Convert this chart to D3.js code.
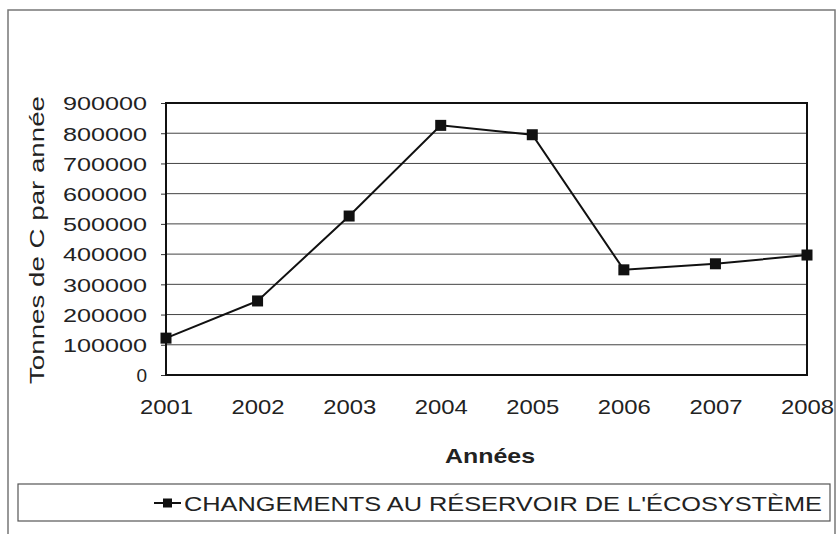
<!DOCTYPE html>
<html>
<head>
<meta charset="utf-8">
<script src="https://cdn.jsdelivr.net/npm/d3@7"></script>
<style>
  body { margin: 0; background: #fff; }
  text { font-family: "Liberation Sans", Arial, sans-serif; fill: #222; }
</style>
</head>
<body>
<div id="chart"></div>
<script>
// data
const years = ["2001", "2002", "2003", "2004", "2005", "2006", "2007", "2008"];
const values = [122000, 245000, 526000, 826000, 795000, 348000, 368000, 397000];
const yTicks = [0, 100000, 200000, 300000, 400000, 500000, 600000, 700000, 800000, 900000];
const seriesName = "CHANGEMENTS AU RÉSERVOIR DE L'ÉCOSYSTÈME";

const width = 837, height = 534;
const plot = {left: 166, right: 807, top: 103, bottom: 375};

const svg = d3.select("#chart")
    .append("svg")
    .attr("width", width)
    .attr("height", height);

// outer chart frame
svg.append("rect")
    .attr("x", 8).attr("y", 10)
    .attr("width", 827).attr("height", 540)
    .attr("fill", "none")
    .attr("stroke", "#777")
    .attr("stroke-width", 1.5);

// scales
const x = d3.scalePoint().domain(years).range([plot.left, plot.right]).padding(0);
const y = d3.scaleLinear().domain([0, 900000]).range([plot.bottom, plot.top]);

// gridlines
svg.append("g")
    .selectAll("line")
    .data(yTicks.filter(d => d > 0 && d < 900000))
    .join("line")
    .attr("x1", plot.left).attr("x2", plot.right)
    .attr("y1", d => y(d)).attr("y2", d => y(d))
    .attr("stroke", "#444")
    .attr("stroke-width", 1);

// y axis (ticks outward, labels stretched like the scan)
const yAxis = svg.append("g")
    .attr("transform", `translate(${plot.left},0)`)
    .call(d3.axisLeft(y).tickValues(yTicks).tickSize(5).tickPadding(14).tickFormat(d3.format("d")));
yAxis.select(".domain").remove();
yAxis.selectAll(".tick line").attr("stroke", "#333");
yAxis.selectAll(".tick text")
    .style("font-size", "19px")
    .attr("fill", "#222")
    .attr("dy", "0.36em")
    .attr("textLength", d => d === 0 ? null : 84)
    .attr("lengthAdjust", "spacingAndGlyphs");

// plot area border
svg.append("rect")
    .attr("x", plot.left).attr("y", plot.top)
    .attr("width", plot.right - plot.left)
    .attr("height", plot.bottom - plot.top)
    .attr("fill", "none")
    .attr("stroke", "#111")
    .attr("stroke-width", 2);

// x axis labels
const xAxis = svg.append("g")
    .attr("transform", `translate(0,${plot.bottom})`)
    .call(d3.axisBottom(x).tickSize(0).tickPadding(24));
xAxis.select(".domain").remove();
xAxis.selectAll(".tick text")
    .style("font-size", "21px")
    .attr("fill", "#222")
    .attr("textLength", 53)
    .attr("lengthAdjust", "spacingAndGlyphs");

// axis titles
svg.append("text")
    .attr("x", 490)
    .attr("y", 463)
    .attr("text-anchor", "middle")
    .style("font-size", "21px")
    .style("font-weight", "bold")
    .attr("textLength", 90)
    .attr("lengthAdjust", "spacingAndGlyphs")
    .text("Années");

svg.append("text")
    .attr("transform", "translate(44,240) rotate(-90)")
    .attr("text-anchor", "middle")
    .style("font-size", "21px")
    .attr("textLength", 288)
    .attr("lengthAdjust", "spacingAndGlyphs")
    .text("Tonnes de C par année");

// series line
const line = d3.line()
    .x((d, i) => x(years[i]))
    .y(d => y(d));

svg.append("path")
    .datum(values)
    .attr("fill", "none")
    .attr("stroke", "#111")
    .attr("stroke-width", 2)
    .attr("d", line);

svg.append("g")
    .selectAll("rect")
    .data(values)
    .join("rect")
    .attr("x", (d, i) => x(years[i]) - 5.5)
    .attr("y", d => y(d) - 5.5)
    .attr("width", 11).attr("height", 11)
    .attr("fill", "#111");

// legend
const legend = svg.append("g");
legend.append("rect")
    .attr("x", 18).attr("y", 484)
    .attr("width", 812).attr("height", 37)
    .attr("fill", "none")
    .attr("stroke", "#555")
    .attr("stroke-width", 1.2);
legend.append("line")
    .attr("x1", 154).attr("x2", 181)
    .attr("y1", 503).attr("y2", 503)
    .attr("stroke", "#111").attr("stroke-width", 2);
legend.append("rect")
    .attr("x", 163).attr("y", 498.5)
    .attr("width", 9).attr("height", 9)
    .attr("fill", "#111");
legend.append("text")
    .attr("x", 184)
    .attr("y", 511)
    .style("font-size", "21px")
    .attr("textLength", 638)
    .attr("lengthAdjust", "spacingAndGlyphs")
    .text(seriesName);
</script>
</body>
</html>
